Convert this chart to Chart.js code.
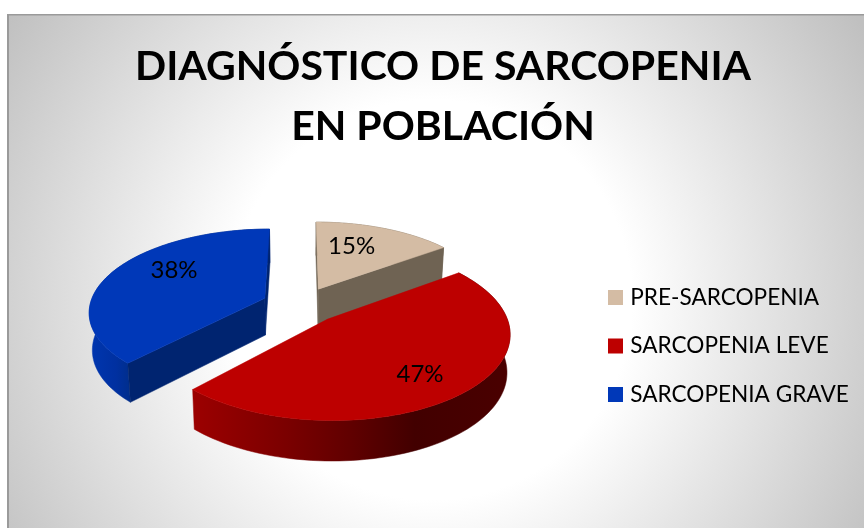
<!DOCTYPE html>
<html><head><meta charset="utf-8">
<style>html,body{margin:0;padding:0;background:#fff}canvas{display:block}</style>
<script src="https://cdn.jsdelivr.net/npm/chart.js@4"></script>
</head><body><canvas id="c" width="864" height="528"></canvas>
<script>
const categories = ["PRE-SARCOPENIA", "SARCOPENIA LEVE", "SARCOPENIA GRAVE"];
const percentages = [15, 47, 38];
const chartTitle = ["DIAGNÓSTICO DE SARCOPENIA", "EN POBLACIÓN"];
const topColors = ["#d4bca4", "#bd0000", "#0038b8"];
const cutColors = ["#6f6353", "#4a0000", "#002470"];
const wallStops = [
  [[0,"#6f6353"],[1,"#6f6353"]],
  [[0,"#9c0000"],[0.3,"#7a0000"],[0.5,"#600000"],[0.7,"#420000"],[1,"#4a0000"]],
  [[0,"#0036b0"],[0.15,"#0030a0"],[0.22,"#002e8e"],[1,"#002470"]]
];
const labelTurn = [-7, 3.5, 12];
const labelReach = [0.65, 0.74, 0.68];

// Perspective view of the pie plane
const view = {cx:301, cy:305, a:175, b:81.5, p:0.15, explode:0.225};
function proj(u, v, low) {
  const w = 1 - view.p * v;
  let x = view.cx + view.a * u / w, y = view.cy + view.b * v / w;
  if (low) { x = view.cx + (x - view.cx) * 0.985; y += 37 + 3 * v; }
  return [x, y];
}
function poly(ctx, pts, fill) {
  ctx.beginPath();
  pts.forEach((p, i) => i ? ctx.lineTo(p[0], p[1]) : ctx.moveTo(p[0], p[1]));
  ctx.closePath();
  ctx.fillStyle = fill;
  ctx.fill();
  ctx.strokeStyle = fill;
  ctx.lineWidth = 0.5;
  ctx.stroke();
}
// a cut face shows only when the slice's top lies above the cut's edge on screen
function cutFacesViewer(apex, end, mid) {
  const dx = end[0] - apex[0];
  if (Math.abs(dx) < 1e-6) return false;
  const yOnEdge = apex[1] + (end[1] - apex[1]) * (mid[0] - apex[0]) / dx;
  return mid[1] < yOnEdge;
}
const pie3d = {
  id: "pie3d",
  beforeDraw(chart) {
    const ctx = chart.ctx, W = chart.width, H = chart.height;
    ctx.save();
    ctx.fillStyle = "#fff";
    ctx.fillRect(0, 0, W, H);
    const g = ctx.createRadialGradient(432, 300, 200, 432, 300, 510);
    g.addColorStop(0, "#ffffff");
    g.addColorStop(1, "#c0c0c0");
    ctx.fillStyle = g;
    ctx.fillRect(7, 14, W - 7, H - 14);
    ctx.fillStyle = "#9a9a9a";
    ctx.fillRect(7, 14, 2, H - 14);
    ctx.fillRect(7, 14, W - 7, 1.5);
    ctx.restore();
  },
  afterLayout(chart) {
    const lg = chart.legend, pad = lg.options.labels.padding;
    const h = lg.height;
    lg.left = 612 - pad;
    lg.right = lg.left + lg.width;
    lg.top = 346 - h / 2;
    lg.bottom = lg.top + h;
  },
  beforeDatasetsDraw(chart) {
    const ctx = chart.ctx, arcs = chart.getDatasetMeta(0).data;
    const order = [0, 2, 1];
    const total = percentages.reduce((s, x) => s + x, 0);
    ctx.save();
    order.forEach(i => {
      const arc = arcs[i], s = arc.startAngle, e = arc.endAngle, m = (s + e) / 2;
      const u0 = view.explode * Math.cos(m), v0 = view.explode * Math.sin(m);
      const n = 90, rim = [];
      for (let k = 0; k <= n; k++) {
        const t = s + (e - s) * k / n;
        rim.push([u0 + Math.cos(t), v0 + Math.sin(t)]);
      }
      const top = rim.map(q => proj(q[0], q[1], false));
      const low = rim.map(q => proj(q[0], q[1], true));
      const xs = top.map(p => p[0]);
      const x0 = Math.min(...xs), x1 = Math.max(...xs);
      const g = ctx.createLinearGradient(x0, 0, x1, 0);
      wallStops[i].forEach(st => g.addColorStop(st[0], st[1]));
      poly(ctx, top.concat(low.slice().reverse()), g);
      const at = proj(u0, v0, false), ab = proj(u0, v0, true), mid = top[n >> 1];
      if (cutFacesViewer(at, top[0], mid)) poly(ctx, [at, top[0], low[0], ab], cutColors[i]);
      if (cutFacesViewer(at, top[n], mid)) poly(ctx, [at, top[n], low[n], ab], cutColors[i]);
      poly(ctx, [at].concat(top), topColors[i]);
    });
    ctx.fillStyle = "#000";
    ctx.font = "24px Lato";
    ctx.textAlign = "center";
    ctx.textBaseline = "middle";
    arcs.forEach((arc, i) => {
      const m = (arc.startAngle + arc.endAngle) / 2;
      const t = m + labelTurn[i] * Math.PI / 180;
      const u = view.explode * Math.cos(m) + labelReach[i] * Math.cos(t);
      const v = view.explode * Math.sin(m) + labelReach[i] * Math.sin(t);
      const p = proj(u, v, false);
      ctx.fillText(Math.round(percentages[i] / total * 100) + "%", p[0], p[1]);
    });
    ctx.restore();
    return false;
  }
};
new Chart(document.getElementById("c"), {
  type: "pie",
  plugins: [pie3d],
  data: {
    labels: categories,
    datasets: [{ data: percentages, backgroundColor: topColors, borderWidth: 0 }]
  },
  options: {
    responsive: false,
    animation: false,
    rotation: 0,
    layout: { padding: { left: 22, top: 37 } },
    plugins: {
      tooltip: { enabled: false },
      title: {
        display: true,
        text: chartTitle,
        color: "#000",
        font: { family: "Lato", size: 41, weight: "bold", lineHeight: 1.463 },
        padding: 0
      },
      legend: {
        position: "right",
        labels: {
          color: "#000",
          font: { family: "Lato", size: 22.6 },
          boxWidth: 7,
          boxHeight: 7,
          padding: 26,
          generateLabels: () => categories.map((t, i) => ({
            text: t, fillStyle: topColors[i], strokeStyle: topColors[i],
            lineWidth: 8, hidden: false, index: i
          }))
        }
      }
    }
  }
});
</script></body></html>
